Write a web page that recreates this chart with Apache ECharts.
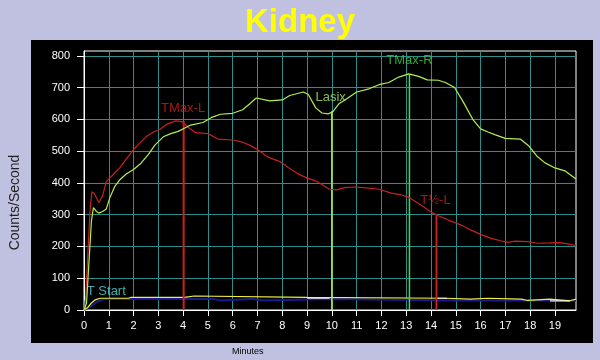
<!DOCTYPE html>
<html>
<head>
<meta charset="utf-8">
<script src="https://cdn.jsdelivr.net/npm/echarts@6/dist/echarts.min.js"></script>
<style>html,body{margin:0;padding:0;background:#C0C0E0;}#c{width:600px;height:360px;}</style>
</head>
<body>
<div id="c"></div>
<script>
// ---- data (minutes, counts/second) ----
var xTicks = [0,1,2,3,4,5,6,7,8,9,10,11,12,13,14,15,16,17,18,19];
var yTicks = [0,100,200,300,400,500,600,700,800];

var leftKidney = [[0,0],[0.05,15],[0.15,170],[0.25,320],[0.32,372],[0.42,366],[0.6,338],[0.75,360],[0.9,404],[1.2,428],[1.45,448],[1.7,475],[2.0,505],[2.25,525],[2.5,545],[2.8,560],[3.05,568],[3.35,585],[3.7,595],[3.95,593],[4.2,575],[4.5,558],[5.0,555],[5.4,538],[6.0,535],[6.4,528],[6.7,518],[7.0,505],[7.4,482],[7.9,467],[8.3,445],[8.6,430],[9.0,415],[9.3,408],[9.6,395],[9.9,380],[10.2,378],[10.5,385],[10.9,387],[11.3,385],[11.9,380],[12.4,368],[12.8,362],[13.1,355],[13.4,340],[13.7,325],[14.0,308],[14.25,298],[14.7,283],[15.2,268],[15.6,252],[16.0,238],[16.4,226],[16.8,218],[17.1,213],[17.4,217],[17.9,215],[18.3,210],[18.8,211],[19.2,212],[19.5,208],[19.85,203]];

var rightKidney = [[0,0],[0.1,20],[0.2,150],[0.3,280],[0.38,322],[0.5,310],[0.6,305],[0.75,310],[0.9,318],[1.05,355],[1.25,390],[1.45,410],[1.7,428],[2.0,442],[2.3,462],[2.6,490],[2.85,518],[3.2,545],[3.5,555],[3.8,562],[4.05,572],[4.3,582],[4.8,590],[5.15,606],[5.5,616],[6.0,619],[6.4,630],[6.7,650],[6.95,667],[7.5,658],[8.0,661],[8.3,675],[8.85,686],[9.05,678],[9.35,636],[9.6,620],[9.85,617],[10.05,625],[10.3,650],[10.6,665],[11.0,686],[11.5,696],[11.9,709],[12.3,716],[12.7,733],[13.1,743],[13.5,735],[13.85,724],[14.3,723],[14.6,715],[14.95,700],[15.3,655],[15.7,598],[16.0,570],[16.3,560],[16.6,551],[17.0,540],[17.6,538],[17.95,516],[18.3,482],[18.6,463],[19.0,447],[19.4,438],[19.85,412]];

var bkgYellow = [[0,0],[0.15,8],[0.3,22],[0.45,32],[0.65,37],[1.8,37],[1.9,40],[4.05,40],[4.1,44],[4.45,44],[4.5,40],[9.0,40],[9.05,37],[14.6,37],[14.65,34],[15.6,34],[15.65,37],[16.3,37],[16.35,34],[17.65,34],[17.7,30],[17.9,30],[17.95,34],[18.8,34],[18.85,29],[19.6,29],[19.65,34],[19.85,34]];

var bkgWhite = [[9.0,37],[9.9,37],null,[14.2,37],[14.65,37],null,[18.8,29],[19.6,29]];

var bkgBlue = [[0,0],[0.3,12],[0.5,25],[0.75,33],[1.0,35],[5.2,35],[5.25,30],[5.5,30],[5.55,35],[6.8,35],[6.85,30],[7.2,30],[7.25,35],[9.9,35],[9.95,31],[14.2,31],[15.0,30],[16.5,30],[17.0,31],[18.0,30],[19.85,30]];

var tStartLine = [[0.02,0],[0.02,30]];
var tMaxLLine  = [[4.02,0],[4.02,595]];
var lasixLine  = [[10.0,0],[10.0,625]];
var tMaxRLine  = [[13.13,0],[13.13,742]];
var tHalfLLine = [[14.22,0],[14.22,298]];

var labelNames  = ['T Start','TMax-L','Lasix','TMax-R','T\u00BD-L'];
var labelPoints = [[0.9,60],[4.0,633],[9.95,670],[13.13,785],[14.18,344]];
var labelColors = ['#4FD8D8','#C82020','#A8E860','#40D040','#C82020'];

// ---- chart ----
var FONT = "'Liberation Sans', Arial, sans-serif";
var chart = echarts.init(document.getElementById('c'), null, {renderer:'canvas'});

function lineSeries(data, color, width, z) {
  return {type:'line', data:data, showSymbol:false, symbol:'none', animation:false,
          lineStyle:{color:color, width:width}, z:z, silent:true, connectNulls:false};
}

var labelData = labelPoints.map(function(p, i){
  return {value:p, name:labelNames[i], label:{color:labelColors[i]}};
});

var option = {
  backgroundColor:'#C0C0E0',
  animation:false,
  textStyle:{fontFamily:FONT},
  graphic:[{type:'rect', shape:{x:31,y:40,width:562,height:303}, style:{fill:'#000'}, z:-10, silent:true}],
  title:[
    {text:'Kidney', left:'center', top:1,
     textStyle:{color:'#FFFF00', fontSize:33, fontWeight:'bold', fontFamily:FONT}},
    {text:'Minutes', left:227, top:342,
     textStyle:{color:'#000', fontSize:9, fontWeight:'normal', fontFamily:FONT}}
  ],
  grid:{left:84, top:51, right:24, bottom:50, show:true, backgroundColor:'#000', borderColor:'#FFFFFF', borderWidth:1},
  xAxis:{type:'value', min:0, max:19.85, interval:1,
    axisLine:{show:true, lineStyle:{color:'#FFFFFF', width:1}},
    axisTick:{show:true, length:6, lineStyle:{color:'#FFFFFF'}, customValues:xTicks},
    axisLabel:{color:'#FFFFFF', fontSize:11, margin:10, fontFamily:FONT, customValues:xTicks},
    splitLine:{show:true, lineStyle:{color:'#2E8E8E', width:1}}
  },
  yAxis:{type:'value', min:0, max:815, interval:100,
    name:'Counts/Second', nameLocation:'middle', nameGap:62, nameRotate:90,
    nameTextStyle:{color:'#202020', fontSize:14, fontFamily:FONT, padding:[0,44,0,0]},
    axisLine:{show:true, lineStyle:{color:'#FFFFFF', width:1}},
    axisTick:{show:true, length:7, lineStyle:{color:'#FFFFFF'}, customValues:yTicks},
    axisLabel:{color:'#FFFFFF', fontSize:11, margin:14, fontFamily:FONT, customValues:yTicks},
    splitLine:{show:true, lineStyle:{color:'#2E8E8E', width:1}}
  },
  series:[
    lineSeries(bkgBlue, '#1A1A90', 2, 2),
    lineSeries(bkgYellow, '#F0F040', 1.2, 3),
    lineSeries(bkgWhite, '#F0F0F0', 1.2, 4),
    lineSeries(tStartLine, '#4FD8D8', 1, 5),
    lineSeries(tMaxLLine, '#D02020', 2, 5),
    lineSeries(lasixLine, '#C0F040', 1.5, 5),
    lineSeries(tMaxRLine, '#40E040', 1.5, 5),
    lineSeries(tHalfLLine, '#D02020', 1.8, 5),
    lineSeries(leftKidney, '#C82020', 1.2, 6),
    lineSeries(rightKidney, '#B0F050', 1.2, 7),
    {type:'scatter', data:labelData, symbolSize:0.1, itemStyle:{color:'rgba(0,0,0,0)'}, silent:true, z:8,
     label:{show:true, position:'inside', fontSize:13, fontFamily:FONT,
            formatter:function(p){return p.name;}}}
  ]
};
chart.setOption(option);
</script>
</body>
</html>
